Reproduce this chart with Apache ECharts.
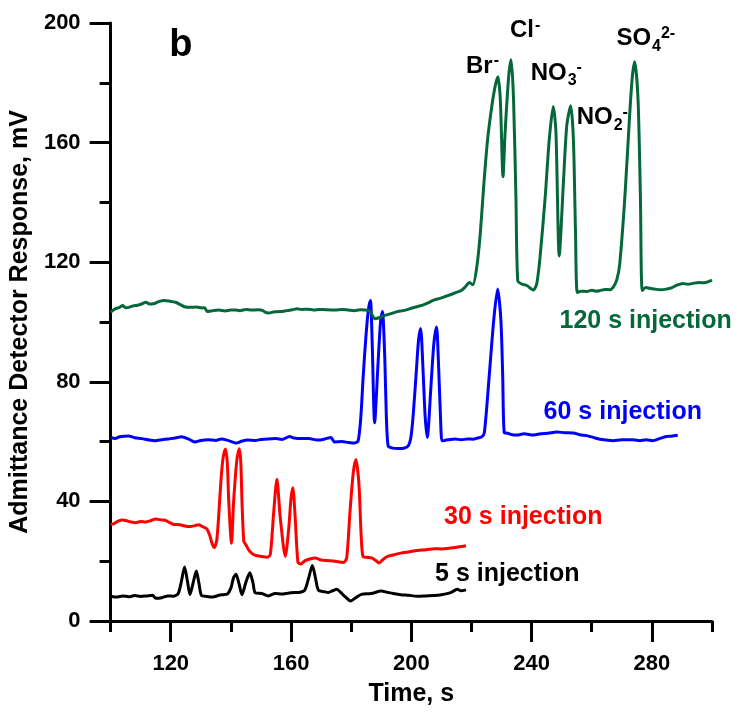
<!DOCTYPE html>
<html>
<head>
<meta charset="utf-8">
<script src="https://cdn.jsdelivr.net/npm/echarts@6/dist/echarts.min.js"></script>
<style>
html,body{margin:0;padding:0;background:#fff;}
#chart{width:736px;height:712px;}
</style>
</head>
<body>
<div id="chart"></div>
<script>
// ---------- data (time s, response mV) ----------
var xMajorTicks = [120, 160, 200, 240, 280];
var xMinorTicks = [100, 140, 180, 220, 260, 300];
var yMajorTicks = [0, 40, 80, 120, 160, 200];
var yMinorTicks = [20, 60, 100, 140, 180];

var inj5s = [[100,8.3],[102,8.0],[104,8.4],[106,8.1],[108,8.5],[110,8.2],[112,8.4],[114,8.6],[115,7.6],[117,7.8],[119,8.4],[121,8.3],[122.5,9.2],[123.6,13.5],[124.6,18.1],[125.6,13],[126.4,8.9],[127.5,13],[128.5,16.7],[129.4,12.5],[130.2,8.6],[132,8.2],[134,8.0],[136,8.6],[137.5,8.8],[138.8,9.0],[140.0,11],[140.9,14.5],[141.7,15.6],[142.7,12.5],[143.7,8.8],[145.0,13],[146.3,16.1],[147.3,13],[148.1,9.4],[150.3,9.2],[152.5,8.4],[154.7,9.2],[157,9.0],[159,9.3],[161.3,9.5],[163,9.6],[164.6,10.4],[165.9,14.5],[167.1,18.6],[168.2,14],[169.1,10.3],[171,9.8],[172.4,9.5],[174,10.2],[175.2,10.6],[176.5,9.6],[177.5,8.6],[179.9,6.7],[181.5,7.8],[183.4,8.9],[186.7,9.2],[190,10],[192,9.6],[194,9.2],[196.5,8.8],[199,8.6],[202,8.3],[205,8.4],[207.6,8.5],[210,8.8],[213.1,9.5],[215.3,10.6],[216.5,10.1],[218.2,10.4]];

var inj30s = [[100,32.3],[101,32.5],[102.5,33.4],[104,33.8],[105.1,33.6],[106.5,33.2],[108.4,32.9],[110,33.3],[111.7,33.1],[113.5,33.6],[115,34.1],[117,33.8],[118.3,33.6],[119.5,33.0],[121,32.3],[123,32.2],[125,31.7],[126.5,31.6],[128,31.9],[129.3,32.2],[130.5,31.6],[132.0,30.8],[133.0,28.5],[133.8,25.8],[134.5,24.6],[135.3,27],[136.0,36],[136.7,47],[137.4,54.5],[138.2,57.5],[138.8,53],[139.3,39.8],[140.2,26],[140.9,39.8],[142.0,54],[142.8,57.6],[143.3,53],[143.7,39.8],[144.3,26.6],[145.0,25.5],[145.9,23.8],[147,22.6],[148.1,22],[150,21.6],[152,21.3],[153.1,22.2],[154.2,35.9],[155.3,47.4],[156.4,34.8],[158.1,21.6],[159.2,30.5],[160.0,41],[160.6,44.6],[161.4,34.3],[162.3,19.6],[163.2,19.1],[164.7,20.2],[166.5,20.8],[168,21.1],[170,20.4],[172,20.2],[174.6,20],[177.4,19.6],[178.5,21],[179.6,36.4],[180.7,49.6],[181.6,54],[182.6,45.6],[183.3,29],[183.9,21.6],[185,21.3],[186.8,21.1],[188.2,20.2],[189.3,19.4],[190.5,20.5],[192.1,21.6],[194,22.1],[196.5,22.7],[199,23.1],[202,23.6],[205,23.8],[207.6,24.2],[210,24.1],[213.1,24.4],[216,24.8],[218.2,25.2]];

var inj60s = [[100,61.4],[101.5,61.0],[103,61.6],[105.9,61.9],[108,61.3],[110.4,61.0],[112.5,60.6],[114.8,60.3],[117,60.6],[119.2,60.9],[121.5,61.2],[123.6,61.6],[126,60.8],[128,59.9],[130,60.4],[132.5,60.6],[135,60.4],[136.9,60.9],[139,60.4],[141.8,59.5],[143.5,60.1],[145.7,60.5],[148,60.4],[150,60.7],[152.3,60.9],[155,61.0],[157,60.7],[159.5,61.7],[161,61.2],[163.3,61.0],[166,61.0],[168.8,60.5],[171,60.8],[173.3,61.4],[174.4,59.9],[177,60.0],[179,59.7],[181,59.5],[182.3,60.2],[183.2,68],[184.0,81.8],[184.9,95],[185.7,103.9],[186.4,107.2],[187.0,92.8],[187.8,66.3],[189.0,87.3],[189.8,100.5],[190.4,103.5],[191.2,87.3],[191.7,68.5],[192.3,58.5],[193.5,57.9],[195.5,57.7],[197.5,57.8],[199.0,58.6],[199.8,61],[200.6,68.5],[201.7,84],[202.4,93.9],[203.1,97.8],[203.9,84],[204.6,68.5],[205.3,61.4],[206.6,79.6],[207.5,92.8],[208.4,98.3],[209.0,87.3],[209.7,68.5],[210.2,60.3],[211,60.4],[212.3,60.6],[214.5,60.9],[216.6,60.6],[218.7,60.9],[220.6,60.8],[222,61.2],[223.4,61.6],[224.3,63],[225.9,81.8],[227.4,100.5],[228.7,111],[229.8,100.5],[230.4,81.8],[230.9,63],[232,62.8],[233.5,62.3],[235.1,62.2],[237.5,62.6],[240.7,62.2],[243,62.6],[245.5,62.8],[248.4,63.2],[251,63.0],[253.9,62.9],[256,62.3],[258.3,62.0],[260.5,61.4],[262.7,60.8],[265,60.5],[267.1,60.3],[270,60.6],[273.7,60.6],[276,60.3],[278,60.6],[280.3,60.3],[282.5,61.0],[284.8,61.7],[286.5,61.8],[288.6,62.1]];

var inj120s = [[100,103.3],[101.5,104.4],[103,104.9],[104,105.5],[105,104.8],[106,104.9],[107.5,105.4],[109,105.6],[110.5,106.1],[111.7,106.6],[113,106.0],[114.5,106.2],[116,106.8],[117.8,107.2],[119.5,107.0],[121.6,106.6],[123,105.9],[124.9,105.0],[126.5,104.9],[128.5,105.0],[130.4,104.7],[131.3,104.8],[132.1,103.5],[134,103.8],[136,104.0],[138,103.7],[140,104.0],[141.4,104.0],[143,103.8],[145,104.2],[147,104.0],[149,104.1],[150.5,103.9],[151.5,103.2],[152.5,103.0],[154.5,103.4],[156.5,103.5],[158.5,103.8],[160.5,104.1],[162,104.4],[163.6,104.2],[165.5,104.3],[167.5,104.0],[169.5,104.2],[171.5,104.1],[174.6,104.0],[177,104.2],[179,104.0],[181,103.8],[183,104.1],[185.7,103.9],[186.5,103.3],[187.9,101.1],[189.5,101.5],[191.2,102.2],[193,102.7],[195,103.4],[197.8,103.9],[200,104.6],[202.2,105.2],[204,105.7],[206,106.6],[207.7,107.4],[209.5,107.9],[211.5,108.6],[213.2,109.2],[215,109.9],[216.6,110.5],[218,111.8],[219.3,113.2],[220.5,112.5],[221.9,119.3],[223.0,130.4],[224.1,145.8],[225.4,161.3],[226.8,172.3],[227.9,178.9],[228.8,182],[229.6,174.5],[230.5,148.6],[231.2,163.5],[232.4,182.3],[233.2,187.7],[234.0,174.5],[234.8,141.4],[235.4,113.8],[236.7,112.7],[238.4,112.2],[240.6,110.7],[241.7,112.7],[242.8,121.5],[244.5,141.4],[245.9,161.3],[247.2,172.1],[248.1,163.5],[249.2,122.1],[250.6,146.9],[251.7,165.7],[253.0,172.3],[253.9,161.3],[254.6,130.4],[255.2,109.9],[256.5,110.3],[258.3,110.2],[260,110.6],[261.5,110.3],[262.7,110.5],[264.5,110.9],[266,110.8],[267.1,111.6],[268.3,114],[269.3,119.3],[271.0,141.4],[272.6,169],[273.5,182],[274.3,187],[275.4,174.5],[276.2,141.4],[276.8,110.5],[278,111.5],[279.2,111.3],[281,111.0],[283,110.8],[284.8,111.0],[286.5,111.4],[288.3,112.3],[290.3,112.9],[292,112.6],[294,113.0],[295.8,113.2],[297.5,113.1],[298.8,113.5],[300,114]];

// annotation texts, anchored in data coordinates (left edge, vertical centre)
var seriesLabels = [
  {text: '120 s injection', at: [249.3, 100.3], color: '#05683a'},
  {text: '60 s injection',  at: [244.0, 69.9],  color: '#0000ff'},
  {text: '30 s injection',  at: [210.9, 34.8],  color: '#ff0000'},
  {text: '5 s injection',   at: [207.9, 15.6],  color: '#000000'}
];
var ionLabels = [
  {main: 'Br', sub: '',  sup: '-',  at: [218.2, 185.6]},
  {main: 'Cl', sub: '',  sup: '-',  at: [232.8, 197.4]},
  {main: 'NO', sub: '3', sup: '-',  at: [239.7, 183.3]},
  {main: 'NO', sub: '2', sup: '-',  at: [255.0, 168.4]},
  {main: 'SO', sub: '4', sup: '2-', at: [268.2, 194.9]}
];
var panelLabel = {text: 'b', at: [119.5, 192.4]};

// ---------- chart ----------
var FONT = '"Liberation Sans", Arial, Helvetica, sans-serif';
var chart = echarts.init(document.getElementById('chart'), null, {renderer: 'canvas'});

function lineSeries(name, data, color) {
  return {
    name: name, type: 'line', data: data, showSymbol: false, symbol: 'none',
    smooth: 0.25,
    lineStyle: {color: color, width: 3}, itemStyle: {color: color},
    animation: false, silent: true
  };
}
var tickStyle = {color: '#000', width: 3};
var labelFont = {fontFamily: FONT, fontWeight: 'bold', fontSize: 22, color: '#000'};
var nameFont = {fontFamily: FONT, fontWeight: 'bold', fontSize: 25, color: '#000'};

var option = {
  animation: false,
  backgroundColor: '#ffffff',
  grid: {left: 108, top: 23, width: 604, height: 604, containLabel: false},
  xAxis: [{
    type: 'value', min: 100, max: 300, interval: 20, position: 'bottom',
    name: 'Time, s', nameLocation: 'middle', nameGap: 61, nameTextStyle: nameFont,
    axisLine: {show: true, lineStyle: {color: '#000', width: 3}},
    axisTick: {show: true, length: 21, lineStyle: tickStyle, customValues: xMajorTicks},
    axisLabel: Object.assign({show: true, customValues: xMajorTicks, margin: 32}, labelFont),
    splitLine: {show: false}
  }, {
    type: 'value', min: 100, max: 300, interval: 20, position: 'bottom', offset: 0,
    axisLine: {show: false},
    axisTick: {show: true, length: 11, lineStyle: tickStyle, customValues: xMinorTicks},
    axisLabel: {show: false},
    splitLine: {show: false}
  }],
  yAxis: [{
    type: 'value', min: 0, max: 200, interval: 40, position: 'left',
    name: 'Admittance Detector Response, mV', nameLocation: 'middle', nameGap: 68, nameTextStyle: nameFont,
    axisLine: {show: true, lineStyle: {color: '#000', width: 3}},
    axisTick: {show: true, length: 21, lineStyle: tickStyle, customValues: yMajorTicks},
    axisLabel: Object.assign({show: true, customValues: yMajorTicks, margin: 30}, labelFont),
    splitLine: {show: false}
  }, {
    type: 'value', min: 0, max: 200, interval: 20, position: 'left', offset: 0,
    axisLine: {show: false},
    axisTick: {show: true, length: 11, lineStyle: tickStyle, customValues: yMinorTicks},
    axisLabel: {show: false},
    splitLine: {show: false}
  }],
  series: [
    lineSeries('5 s injection', inj5s, '#000000'),
    lineSeries('30 s injection', inj30s, '#ff0000'),
    lineSeries('60 s injection', inj60s, '#0000ff'),
    lineSeries('120 s injection', inj120s, '#05683a')
  ]
};
chart.setOption(option);

// ---------- annotations placed via the chart's own scales ----------
var mctx = document.createElement('canvas').getContext('2d');
function textWidth(str, size) {
  mctx.font = 'bold ' + size + 'px ' + FONT;
  return mctx.measureText(str).width;
}
function toPx(pt) { return chart.convertToPixel({gridIndex: 0}, pt); }

var elements = [];
seriesLabels.forEach(function (l) {
  var p = toPx(l.at);
  elements.push({type: 'text', x: p[0], y: p[1], silent: true,
    style: {text: l.text, fill: l.color, font: 'bold 25px ' + FONT, align: 'left', verticalAlign: 'middle'}});
});
var MAIN = 24, SMALL = 16;
ionLabels.forEach(function (l) {
  var p = toPx(l.at);
  var x = p[0], y = p[1];
  elements.push({type: 'text', x: x, y: y, silent: true,
    style: {text: l.main, fill: '#000', font: 'bold ' + MAIN + 'px ' + FONT, align: 'left', verticalAlign: 'middle'}});
  var xr = x + textWidth(l.main, MAIN) + 1;
  if (l.sub) {
    elements.push({type: 'text', x: xr, y: y + 8, silent: true,
      style: {text: l.sub, fill: '#000', font: 'bold ' + SMALL + 'px ' + FONT, align: 'left', verticalAlign: 'middle'}});
    xr += textWidth(l.sub, SMALL);
  }
  if (l.sup) {
    elements.push({type: 'text', x: xr, y: y - 5, silent: true,
      style: {text: l.sup, fill: '#000', font: 'bold ' + SMALL + 'px ' + FONT, align: 'left', verticalAlign: 'middle'}});
  }
});
(function () {
  var p = toPx(panelLabel.at);
  elements.push({type: 'text', x: p[0], y: p[1], silent: true,
    style: {text: panelLabel.text, fill: '#000', font: 'bold 38px ' + FONT, align: 'left', verticalAlign: 'middle'}});
})();
chart.setOption({graphic: {elements: elements}});
</script>
</body>
</html>
